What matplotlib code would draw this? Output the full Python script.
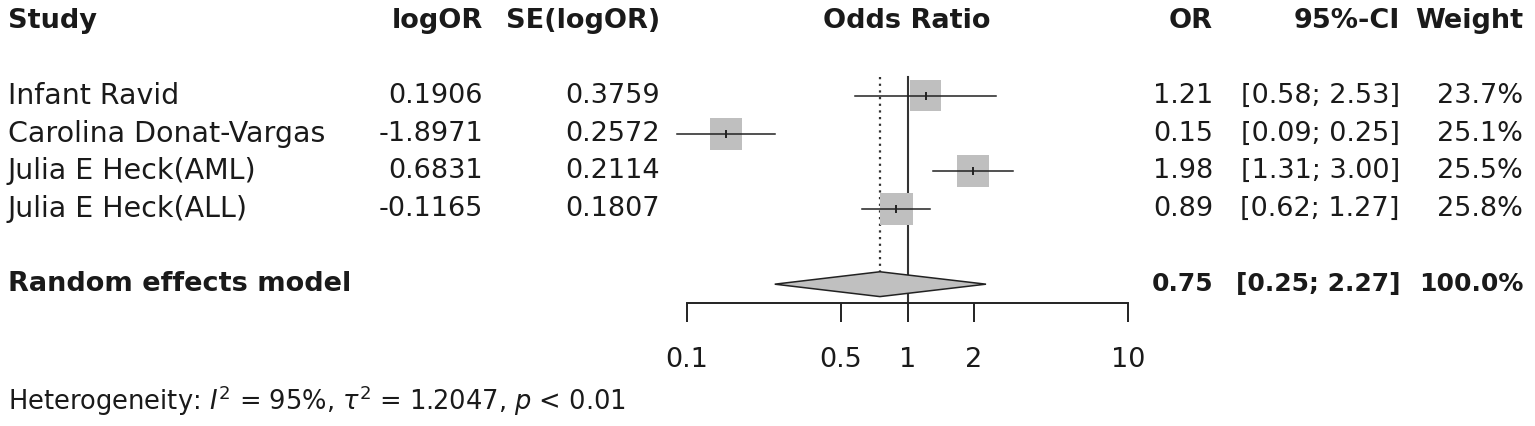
import matplotlib
matplotlib.use("Agg")
import matplotlib.pyplot as plt
import matplotlib.transforms as mtransforms
from matplotlib.patches import Polygon
from matplotlib.ticker import FixedLocator, FixedFormatter, NullLocator

# ---------------- data ----------------
studies = ["Infant Ravid", "Carolina Donat-Vargas", "Julia E Heck(AML)", "Julia E Heck(ALL)"]
log_or = ["0.1906", "-1.8971", "0.6831", "-0.1165"]
se_log_or = ["0.3759", "0.2572", "0.2114", "0.1807"]
odds_ratio = [1.21, 0.15, 1.98, 0.89]
ci_low = [0.58, 0.09, 1.31, 0.62]
ci_high = [2.53, 0.25, 3.00, 1.27]
weights = [23.7, 25.1, 25.5, 25.8]
summary_label = "Random effects model"
summary_or = 0.75
summary_low = 0.25
summary_high = 2.27
summary_weight = 100.0
tick_values = [0.1, 0.5, 1, 2, 10]
tick_labels = ["0.1", "0.5", "1", "2", "10"]
heterogeneity = r"Heterogeneity: $I^2$ = 95%, $\tau^2$ = 1.2047, $p$ < 0.01"

# ---------------- style ----------------
plt.rcParams["font.family"] = ["DejaVu Sans"]
plt.rcParams["mathtext.fontset"] = "dejavusans"
FS = 19.5
TXT = "#1a1a1a"

W, H = 1535, 426
fig = plt.figure(figsize=(W / 100, H / 100), dpi=100)

# axes for the forest region
x0, x1 = 687, 1128
row_px = 37.67
y_top_px = 96 - 2.5 * row_px
y_bot_px = 303
ax = fig.add_axes([x0 / W, 1 - y_bot_px / H, (x1 - x0) / W, (y_bot_px - y_top_px) / H])
ax.set_xscale("log")
ax.set_xlim(0.1, 10)
ax.set_ylim(6.5, -1.5)
for s in ["top", "left", "right"]:
    ax.spines[s].set_visible(False)
ax.spines["bottom"].set_linewidth(1.4)
ax.spines["bottom"].set_color("#222222")
ax.yaxis.set_major_locator(NullLocator())
ax.xaxis.set_major_locator(FixedLocator(tick_values))
ax.xaxis.set_major_formatter(FixedFormatter(tick_labels))
ax.xaxis.set_minor_locator(NullLocator())
ax.tick_params(axis="x", direction="out", length=13.7, width=1.4, color="#222222",
               labelsize=FS, pad=18, labelcolor=TXT)
ax.patch.set_visible(False)

rows = [1, 2, 3, 4]
summary_row = 6
dh = 0.33

# reference lines
ax.plot([1, 1], [0.5, 6.5], color="#333333", lw=1.5, clip_on=False, zorder=1)
ax.plot([summary_or, summary_or], [0.5, summary_row - dh], color="#333333", lw=1.6,
        linestyle=(0, (1, 2)), clip_on=False, zorder=1)

# squares, CIs, point marks
ax.scatter(odds_ratio, rows, s=[w * 21 for w in weights], marker="s", color="#bfbfbf",
           edgecolors="none", zorder=2, clip_on=False)
for r, lo, hi in zip(rows, ci_low, ci_high):
    ax.plot([lo, hi], [r, r], color="#222222", lw=1.1, zorder=3, clip_on=False)
ax.scatter(odds_ratio, rows, s=40, marker="|", color="#222222", linewidths=1.4, zorder=4,
           clip_on=False)

# summary diamond
diamond = Polygon([(summary_low, summary_row), (summary_or, summary_row - dh),
                   (summary_high, summary_row), (summary_or, summary_row + dh)],
                  closed=True, facecolor="#c0c0c0", edgecolor="#222222", lw=1.1,
                  zorder=3, clip_on=False)
ax.add_patch(diamond)

# ---------------- text columns ----------------
tr = mtransforms.blended_transform_factory(fig.transFigure, ax.transData)
header_row = -1

def put(xpx, row, s, ha="left", bold=False, size=FS):
    fig.text(xpx / W, row, s, transform=tr, ha=ha, va="center", fontsize=size,
             fontweight="bold" if bold else "normal", color=TXT)

put(8, header_row, "Study", bold=True)
put(483, header_row, "logOR", ha="right", bold=True)
put(660, header_row, "SE(logOR)", ha="right", bold=True)
put(907, header_row, "Odds Ratio", ha="center", bold=True)
put(1213, header_row, "OR", ha="right", bold=True)
put(1400, header_row, "95%-CI", ha="right", bold=True)
put(1523, header_row, "Weight", ha="right", bold=True)

for r, name, lo_, se_, orv, lo, hi, w in zip(rows, studies, log_or, se_log_or, odds_ratio,
                                             ci_low, ci_high, weights):
    put(8, r, name, size=20.5)
    put(483, r, lo_, ha="right")
    put(660, r, se_, ha="right")
    put(1213, r, f"{orv:.2f}", ha="right")
    put(1400, r, f"[{lo:.2f}; {hi:.2f}]", ha="right")
    put(1523, r, f"{w:.1f}%", ha="right")

put(8, summary_row, summary_label, bold=True)
put(1213, summary_row, f"{summary_or:.2f}", ha="right", bold=True, size=18)
put(1400, summary_row, f"[{summary_low:.2f}; {summary_high:.2f}]", ha="right", bold=True, size=18)
put(1523, summary_row, f"{summary_weight:.1f}%", ha="right", bold=True, size=18)

fig.text(8 / W, 1 - 401 / H, heterogeneity, ha="left", va="center", fontsize=18.5, color=TXT)

fig.savefig("out.png", dpi=100, facecolor="white")
